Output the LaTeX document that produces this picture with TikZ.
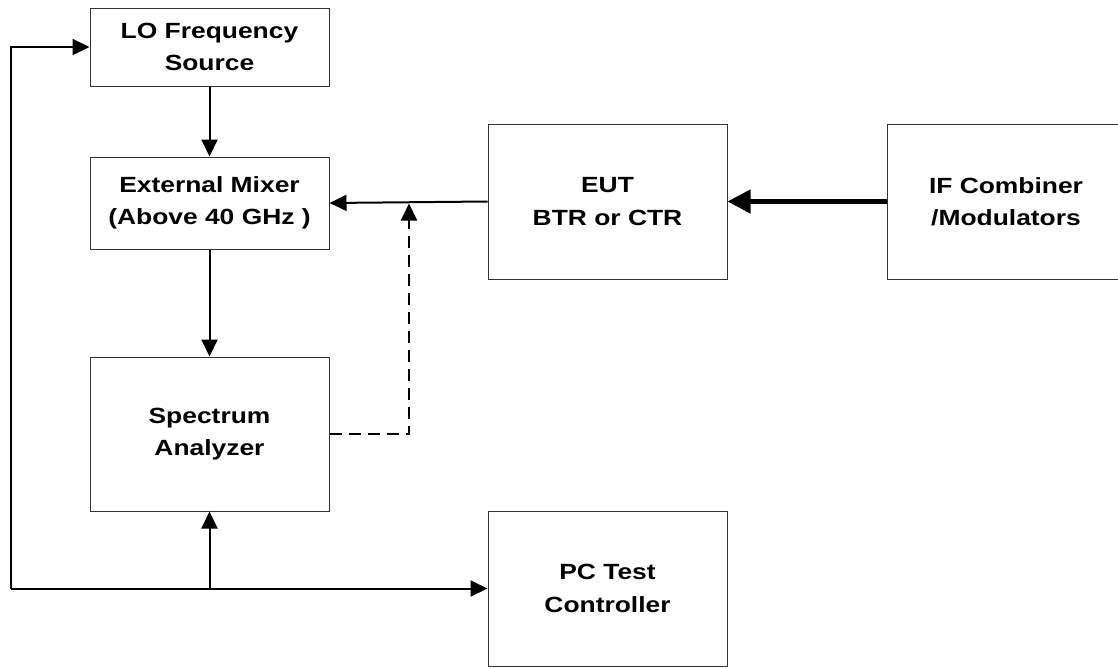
\documentclass[tikz,border=0pt]{standalone}
\usepackage{fontspec}
\setmainfont{Liberation Sans}[FakeStretch=1.2]
\usetikzlibrary{arrows.meta}
\begin{document}
\begin{tikzpicture}[x=1pt,y=-1pt,
  blk/.style={draw=black!80, line width=1pt, inner sep=0pt, align=center,
    font={\fontsize{22}{32.5}\selectfont\bfseries}},
  conn/.style={line width=2pt, line join=miter, -{Triangle[length=17pt,width=16pt]}},
  thick conn/.style={line width=4.6pt, -{Triangle[length=23pt,width=23pt]}},
  dash conn/.style={conn, dash pattern=on 12pt off 7pt}]
\useasboundingbox (0,0) rectangle (1118,667);
\node[blk, minimum width=239pt, minimum height=78pt]  (lo)  at (209.5,47)    {LO Frequency\\Source};
\node[blk, minimum width=239pt, minimum height=92pt]  (mix) at (209.5,203)   {External Mixer\\(Above 40 GHz )};
\node[blk, minimum width=239pt, minimum height=154pt] (sa)  at (209.5,434)   {Spectrum\\Analyzer};
\node[blk, minimum width=239pt, minimum height=155pt] (eut) at (607.5,201.5) {EUT\\BTR or CTR};
\node[blk, minimum width=239pt, minimum height=155pt] (pc)  at (607.5,588.5) {PC Test\\Controller};
\node[blk, minimum width=238pt, minimum height=155pt] (ifc) at (1006,201.5)  {IF Combiner\\/Modulators};
\coordinate (bl) at (11,588.5);
\coordinate (jn) at (409,203.5);
\draw[conn] (lo.south) -- (mix.north);
\draw[conn] (mix.south) -- (sa.north);
\draw[conn] (eut.west) -- (mix.east);
\draw[thick conn] (ifc.west) -- (eut.east);
\draw[dash conn] (sa.east |- 0,434) -| (jn);
\draw[conn] (bl) |- (lo.west);
\draw[conn] (bl) -- (pc.west);
\draw[conn] (sa.south |- bl) -- (sa.south);
\end{tikzpicture}
\end{document}
